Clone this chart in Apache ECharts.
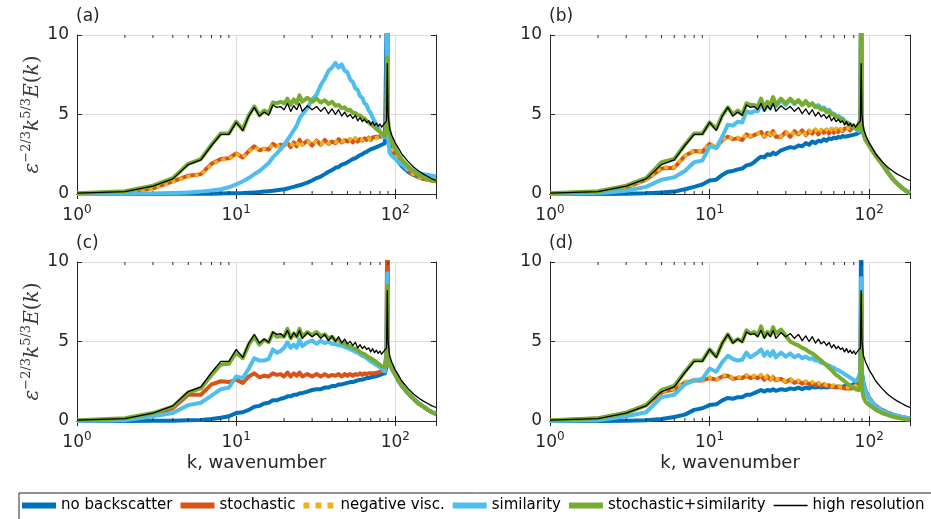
<!DOCTYPE html>
<html><head><meta charset="utf-8">
<script src="https://cdn.jsdelivr.net/npm/echarts@6/dist/echarts.min.js"></script>
<style>html,body{margin:0;padding:0;background:#fff}#c{width:931px;height:519px}</style>
</head><body><div id="c"></div>
<script>
// wavenumbers
const K = [1,2,3,4,5,6,7,8,9,10,11,12,13,14,15,16,17,18,19,20,21,22,23,24,25,26,
  28,30,32,34,36,38,40,42,44,46,48,50,52,54,56,58,60,62,64,66,68,70,72,74,76,78,80,82,84,86,
  88,89,90,92,95,100,105,110,120,130,140,150,160,170,180];
const X_TICK_EXPONENTS = [0,1,2];
const MINOR_TICKS = [2,3,4,5,6,7,8,9,20,30,40,50,60,70,80,90];
const Y_TICKS = [0,5,10];

// high resolution (same reference in every panel)
const HR = [0.05,0.15,0.5,0.95,1.85,2.15,3.05,3.75,3.75,4.5,4.0,4.9,5.45,4.9,5.15,4.95,5.6,5.45,5.5,5.3,5.7,5.2,5.55,5.3,5.7,5.2,
  5.55,5.3,5.5,5.2,5.45,5.05,5.35,5.0,5.3,4.9,5.15,4.85,5.0,4.75,4.95,4.6,4.8,4.55,4.7,4.5,4.6,4.35,4.55,4.3,4.45,4.25,4.4,4.2,4.35,4.3,
  4.6,8.2,5.0,4.1,3.7,3.2,2.85,2.5,2.05,1.7,1.45,1.25,1.1,0.95,0.85];

// panel (a)
const NB_A = [0,0,0,0.01,0.01,0.02,0.02,0.03,0.04,0.05,0.06,0.08,0.1,0.12,0.15,0.18,0.2,0.24,0.27,0.3,0.35,0.4,0.45,0.5,0.55,0.6,
  0.72,0.85,1.0,1.1,1.25,1.4,1.5,1.65,1.7,1.85,1.9,2.0,2.1,2.2,2.25,2.35,2.45,2.5,2.6,2.65,2.75,2.8,2.85,2.9,2.95,3.0,3.05,3.1,3.15,3.2,
  3.3,14,3.6,3.2,2.7,2.3,2.0,1.75,1.4,1.2,1.05,0.95,0.9,0.85,0.85];
const ST_A = [0.02,0.1,0.35,0.8,1.15,1.25,1.9,2.2,2.25,2.55,2.3,2.7,3.0,2.75,2.85,2.8,3.15,3.0,3.1,3.05,3.2,2.95,3.25,3.0,3.4,3.1,
  3.35,3.05,3.35,3.1,3.4,3.15,3.3,3.2,3.45,3.25,3.4,3.3,3.45,3.25,3.5,3.3,3.45,3.35,3.5,3.4,3.55,3.4,3.55,3.45,3.6,3.5,3.6,3.55,3.65,3.75,
  4.0,12,4.2,3.4,2.9,2.45,2.15,1.9,1.5,1.25,1.1,0.95,0.9,0.85,0.8];
const NV_A = [0.02,0.1,0.33,0.78,1.1,1.22,1.85,2.15,2.2,2.5,2.3,2.65,2.95,2.75,2.85,2.85,3.1,3.0,3.1,3.1,3.15,3.0,3.2,3.05,3.35,3.1,
  3.3,3.1,3.3,3.15,3.35,3.2,3.3,3.25,3.4,3.3,3.4,3.35,3.45,3.3,3.5,3.35,3.45,3.4,3.5,3.45,3.5,3.45,3.55,3.5,3.6,3.55,3.6,3.6,3.65,3.7,
  3.9,11,4.1,3.4,2.9,2.45,2.15,1.9,1.5,1.25,1.1,0.95,0.9,0.85,0.8];
const SIM_A = [0,0.01,0.03,0.06,0.1,0.15,0.22,0.3,0.42,0.6,0.8,1.0,1.25,1.45,1.7,1.95,2.3,2.55,2.8,3.1,3.4,3.7,4.0,4.3,4.75,5.0,
  5.4,5.95,6.25,6.85,7.25,7.75,7.95,8.25,7.95,8.15,7.75,7.65,7.2,7.05,6.65,6.55,6.15,6.05,5.7,5.6,5.25,5.1,4.8,4.7,4.35,4.25,3.95,3.85,3.55,3.45,
  3.6,14,3.5,2.6,2.4,2.2,2.0,1.85,1.6,1.45,1.3,1.25,1.2,1.15,1.1];
const SS_A = [0.05,0.17,0.52,1.0,1.9,2.2,3.1,3.8,3.8,4.55,4.05,4.95,5.5,4.95,5.25,5.1,5.75,5.7,5.8,5.7,6.0,5.6,5.95,5.7,6.2,5.8,
  6.05,5.8,6.0,5.75,5.9,5.65,5.8,5.55,5.6,5.4,5.45,5.25,5.3,5.1,5.1,4.95,4.95,4.8,4.75,4.6,4.5,4.4,4.3,4.2,4.1,4.0,3.9,3.8,3.7,3.65,
  4.2,8.6,4.6,3.8,3.3,2.85,2.45,2.15,1.75,1.45,1.2,1.05,0.95,0.85,0.8];

// panel (b)
const NB_B = [0,0,0.02,0.05,0.1,0.15,0.3,0.45,0.6,0.85,0.9,1.2,1.4,1.45,1.55,1.6,1.8,1.85,2.0,2.2,2.35,2.3,2.5,2.45,2.6,2.5,
  2.75,2.85,2.95,2.9,3.05,3.0,3.2,3.1,3.3,3.2,3.35,3.3,3.45,3.35,3.5,3.45,3.55,3.5,3.6,3.55,3.65,3.6,3.7,3.65,3.7,3.7,3.75,3.75,3.8,3.85,
  4.0,14,4.2,3.8,3.4,3.05,2.7,2.4,1.9,1.4,0.95,0.65,0.4,0.2,0.05];
const ST_B = [0.02,0.1,0.4,0.9,1.6,1.65,2.4,2.7,2.65,3.15,2.9,3.4,3.6,3.45,3.5,3.4,3.75,3.6,3.7,3.8,3.9,3.6,3.85,3.7,3.95,3.6,
  3.6,3.9,3.6,3.95,3.75,4.0,3.7,3.95,3.8,4.05,3.75,4.0,3.85,4.05,3.8,4.1,3.85,4.1,3.9,4.1,3.95,4.1,4.0,4.15,4.0,4.15,4.05,4.15,4.2,4.4,
  4.8,12,4.3,3.8,3.4,3.05,2.7,2.4,1.9,1.4,0.95,0.65,0.4,0.2,0.05];
const NV_B = [0.02,0.1,0.42,0.92,1.65,1.7,2.4,2.75,2.7,3.15,2.95,3.4,3.65,3.45,3.55,3.45,3.8,3.65,3.75,3.8,3.9,3.65,3.9,3.75,3.95,3.65,
  3.65,3.9,3.65,3.95,3.8,4.0,3.75,4.0,3.85,4.05,3.8,4.05,3.9,4.05,3.85,4.1,3.9,4.1,3.95,4.1,4.0,4.1,4.05,4.15,4.05,4.15,4.1,4.15,4.2,4.35,
  4.7,11,4.3,3.8,3.4,3.05,2.7,2.4,1.9,1.4,0.95,0.65,0.4,0.2,0.05];
const SIM_B = [0,0.05,0.2,0.45,0.9,1.05,1.45,2.0,2.1,3.0,2.9,3.6,4.35,4.3,4.55,4.5,5.2,5.1,5.2,5.2,5.7,5.3,5.6,5.4,5.9,5.5,
  5.9,5.6,5.95,5.65,5.9,5.6,5.8,5.6,5.7,5.5,5.6,5.4,5.45,5.25,5.3,5.1,5.05,4.95,4.9,4.8,4.75,4.6,4.55,4.45,4.4,4.3,4.25,4.1,4.0,3.95,
  4.5,14,4.3,3.8,3.4,3.05,2.7,2.4,1.9,1.4,0.95,0.65,0.4,0.2,0.05];
const SS_B = [0.05,0.17,0.52,1.0,2.0,2.2,3.1,3.8,3.8,4.5,4.1,4.95,5.45,5.0,5.25,5.0,5.7,5.6,5.6,5.5,6.0,5.4,5.8,5.6,6.1,5.6,
  6.0,5.7,6.0,5.7,5.9,5.6,5.85,5.55,5.7,5.45,5.5,5.3,5.35,5.15,5.2,5.0,5.0,4.85,4.85,4.7,4.7,4.55,4.55,4.4,4.4,4.3,4.25,4.15,4.1,4.05,
  4.6,14,4.3,3.8,3.4,3.05,2.7,2.4,1.9,1.4,0.95,0.65,0.4,0.2,0.05];

// panel (c)
const NB_C = [0,0,0.01,0.02,0.04,0.07,0.12,0.2,0.3,0.5,0.55,0.7,0.9,0.95,1.1,1.15,1.3,1.3,1.4,1.45,1.55,1.55,1.65,1.65,1.75,1.75,
  1.85,1.95,2.0,2.0,2.1,2.1,2.2,2.2,2.3,2.3,2.35,2.4,2.45,2.45,2.5,2.55,2.6,2.6,2.65,2.7,2.7,2.75,2.8,2.8,2.85,2.85,2.9,2.95,2.95,3.0,
  3.4,14,3.8,3.6,3.3,2.9,2.5,2.2,1.75,1.4,1.1,0.9,0.7,0.55,0.45];
const ST_C = [0.02,0.1,0.4,0.8,1.65,1.65,2.3,2.5,2.45,2.6,2.4,2.8,3.0,2.75,2.85,2.8,3.0,2.9,2.95,2.8,3.05,2.8,3.0,2.85,3.05,2.8,
  2.95,2.8,2.95,2.8,2.95,2.8,2.9,2.85,2.95,2.8,2.95,2.85,2.95,2.85,2.95,2.9,3.0,2.9,3.0,2.95,3.0,3.0,3.05,3.0,3.1,3.05,3.1,3.15,3.25,3.5,
  4.3,14,4.0,3.6,3.3,2.9,2.5,2.2,1.75,1.4,1.1,0.9,0.7,0.55,0.45];
const NV_C = null;
const SIM_C = [0,0.05,0.3,0.5,1.0,1.15,1.6,2.0,2.1,2.8,2.7,3.3,3.95,3.8,3.8,3.9,4.5,4.3,4.4,4.6,4.95,4.6,4.8,4.6,5.1,4.7,
  4.95,5.05,4.85,5.05,4.9,5.0,4.85,4.85,4.75,4.75,4.65,4.6,4.5,4.45,4.35,4.3,4.2,4.1,4.05,3.95,3.85,3.75,3.7,3.6,3.5,3.45,3.35,3.3,3.2,3.1,
  4.0,9.3,4.0,3.6,3.3,2.9,2.5,2.2,1.75,1.4,1.1,0.9,0.7,0.55,0.45];
const SS_C = [0.05,0.17,0.5,0.9,1.8,2.05,2.9,3.55,3.6,4.3,3.95,4.8,5.3,4.8,5.1,4.95,5.55,5.3,5.35,5.3,5.8,5.2,5.5,5.3,5.8,5.3,
  5.6,5.4,5.6,5.35,5.45,5.2,5.3,5.05,5.1,4.9,4.9,4.75,4.7,4.6,4.55,4.45,4.35,4.25,4.2,4.1,4.0,3.95,3.85,3.8,3.7,3.6,3.55,3.45,3.35,3.4,
  3.8,8.5,4.0,3.6,3.3,2.9,2.5,2.2,1.75,1.4,1.1,0.9,0.7,0.55,0.45];

// panel (d)
const NB_D = [0,0,0.02,0.05,0.12,0.25,0.4,0.7,0.8,1.0,1.05,1.3,1.45,1.4,1.5,1.5,1.65,1.65,1.75,1.85,1.95,1.85,1.95,1.9,2.0,1.9,
  2.0,1.95,2.05,2.0,2.1,2.0,2.1,2.05,2.15,2.1,2.15,2.1,2.15,2.1,2.15,2.15,2.15,2.15,2.15,2.15,2.15,2.2,2.2,2.2,2.2,2.25,2.3,2.4,2.55,2.75,
  3.0,14,3.0,2.4,1.9,1.45,1.15,0.95,0.7,0.55,0.42,0.32,0.25,0.2,0.15];
const ST_D = [0.02,0.15,0.5,1.0,1.8,2.0,2.4,2.55,2.55,2.7,2.6,2.8,2.85,2.65,2.7,2.7,2.85,2.7,2.8,2.7,2.85,2.6,2.8,2.6,2.75,2.55,
  2.65,2.45,2.6,2.4,2.5,2.35,2.45,2.3,2.4,2.25,2.35,2.2,2.3,2.2,2.25,2.15,2.2,2.1,2.15,2.1,2.1,2.05,2.1,2.05,2.05,2.05,2.1,2.15,2.2,2.4,
  2.9,7.6,2.8,2.2,1.8,1.4,1.1,0.9,0.65,0.5,0.38,0.3,0.24,0.19,0.15];
const NV_D = [0.02,0.15,0.52,1.0,1.85,2.05,2.45,2.6,2.6,2.75,2.6,2.85,2.9,2.7,2.75,2.75,2.9,2.75,2.85,2.75,2.9,2.65,2.85,2.65,2.8,2.6,
  2.7,2.5,2.65,2.45,2.55,2.4,2.5,2.35,2.45,2.3,2.4,2.25,2.35,2.25,2.3,2.2,2.25,2.15,2.2,2.15,2.15,2.1,2.15,2.1,2.1,2.1,2.15,2.2,2.3,2.5,
  3.0,7.8,2.9,2.3,1.85,1.45,1.15,0.95,0.7,0.52,0.4,0.3,0.25,0.2,0.15];
const SIM_D = [0,0.05,0.3,0.55,1.5,1.65,2.3,2.55,2.65,3.3,3.1,3.7,4.1,3.9,3.8,3.85,4.3,4.0,4.15,4.3,4.5,4.1,4.35,4.1,4.4,4.0,
  4.3,4.05,4.25,4.0,4.15,3.95,4.05,3.9,3.95,3.8,3.8,3.65,3.65,3.5,3.5,3.4,3.35,3.25,3.2,3.1,3.05,2.95,2.9,2.8,2.75,2.65,2.55,2.5,2.55,2.7,
  3.2,9.0,3.0,2.3,1.85,1.4,1.1,0.9,0.65,0.5,0.4,0.3,0.25,0.2,0.15];
const SS_D = [0.05,0.17,0.52,1.0,1.95,2.2,3.1,3.8,3.8,4.5,4.05,4.9,5.45,4.95,5.15,5.0,5.7,5.5,5.6,5.4,5.95,5.3,5.6,5.4,5.9,5.5,
  5.75,5.35,5.0,4.85,4.75,4.6,4.5,4.35,4.25,4.1,3.95,3.8,3.65,3.5,3.35,3.2,3.05,2.9,2.8,2.7,2.6,2.5,2.4,2.3,2.25,2.15,2.1,2.0,1.95,1.95,
  2.2,8.0,2.0,1.5,1.2,1.0,0.85,0.7,0.5,0.38,0.28,0.2,0.15,0.1,0.08];

const PANEL_LABELS = ['(a)','(b)','(c)','(d)'];
const SERIES_NAMES = ['no backscatter','stochastic','negative visc.','similarity','stochastic+similarity','high resolution'];
const PANELS = [
  [NB_A, ST_A, NV_A, SIM_A, SS_A, HR],
  [NB_B, ST_B, NV_B, SIM_B, SS_B, HR],
  [NB_C, ST_C, NV_C, SIM_C, SS_C, HR],
  [NB_D, ST_D, NV_D, SIM_D, SS_D, HR]
];
PANELS.forEach((p, pi) => p.forEach((a, si) => {
  if (a && a.length !== K.length) throw new Error('length mismatch panel ' + pi + ' series ' + si + ': ' + a.length);
}));

const COLORS = ['#0072BD','#D95319','#EDB120','#4DBEEE','#77AC30','#000000'];
const AX = '#262626';
const GRIDC = '#dcdcdc';
const FONT = 'DejaVu Sans';

const GRIDS = [
  {left: 77, top: 35, width: 359, height: 159},
  {left: 550, top: 35, width: 360, height: 159},
  {left: 77, top: 262, width: 359, height: 159},
  {left: 550, top: 262, width: 360, height: 159}
];

const xAxes = [], yAxes = [], series = [], titles = [];
GRIDS.forEach((g, gi) => {
  const common = {
    type: 'log', logBase: 10, min: 1, max: 180, gridIndex: gi
  };
  xAxes.push(Object.assign({}, common, {
    position: 'bottom',
    axisLine: {show: true, lineStyle: {color: AX, width: 1}},
    axisTick: {show: true, inside: true, length: 5, lineStyle: {color: AX}},
    splitLine: {show: true, lineStyle: {color: GRIDC, width: 1}},
    axisLabel: {
      show: true, margin: 10, showMaxLabel: false,
      formatter: v => {
        const e = Math.round(Math.log10(v));
        if (X_TICK_EXPONENTS.indexOf(e) < 0 || Math.abs(v - Math.pow(10, e)) > 1e-6) return '';
        return '{b|10}{s|' + e + '}';
      },
      rich: {
        b: {fontSize: 17, fontFamily: FONT, color: AX},
        s: {fontSize: 12, fontFamily: FONT, color: AX, padding: [0, 0, 12, 0]}
      }
    },
    name: gi >= 2 ? 'k, wavenumber' : '',
    nameLocation: 'middle', nameGap: 33,
    nameTextStyle: {fontSize: 18, fontFamily: FONT, color: AX}
  }));
  xAxes.push(Object.assign({}, common, {
    position: 'top',
    axisLine: {show: true, lineStyle: {color: AX, width: 1}},
    axisTick: {show: true, inside: true, length: 5, lineStyle: {color: AX}},
    splitLine: {show: false}, axisLabel: {show: false}
  }));
  const yCommon = {type: 'value', min: 0, max: 10, interval: 5, gridIndex: gi};
  yAxes.push(Object.assign({}, yCommon, {
    position: 'left',
    axisLine: {show: true, lineStyle: {color: AX, width: 1}},
    axisTick: {show: true, inside: true, length: 5, lineStyle: {color: AX}},
    splitLine: {show: true, lineStyle: {color: GRIDC, width: 1}},
    axisLabel: {show: true, fontSize: 17, fontFamily: FONT, color: AX, margin: 8},
    name: (gi % 2 === 0) ? '{i|ε}{s|−2/3}{i|k}{s|5/3}{i|E}{r|(}{i|k}{r|)}' : '',
    nameLocation: 'middle', nameRotate: 90, nameGap: 32,
    nameTextStyle: {
      rich: {
        i: {fontFamily: 'DejaVu Serif', fontStyle: 'italic', fontSize: 20, color: '#3a3a3a'},
        r: {fontFamily: 'DejaVu Serif', fontSize: 20, color: '#3a3a3a'},
        s: {fontFamily: 'DejaVu Serif', fontSize: 13, color: '#3a3a3a', padding: [0, 0, 12, 0]}
      }
    }
  }));
  yAxes.push(Object.assign({}, yCommon, {
    position: 'right',
    axisLine: {show: true, lineStyle: {color: AX, width: 1}},
    axisTick: {show: true, inside: true, length: 5, lineStyle: {color: AX}},
    splitLine: {show: false}, axisLabel: {show: false}
  }));
  titles.push({
    text: PANEL_LABELS[gi], left: g.left - 1, top: g.top - 27, padding: 0,
    textStyle: {fontSize: 17, fontFamily: FONT, fontWeight: 'normal', color: AX}
  });

  // minor ticks of the log axes (top and bottom, inward)
  series.push({
    type: 'custom', xAxisIndex: gi * 2, yAxisIndex: gi * 2, silent: true, z: 5,
    data: MINOR_TICKS.map(v => [v, 0]),
    renderItem: (params, api) => {
      const p = api.coord([api.value(0), 0]);
      const cs = params.coordSys;
      return {type: 'group', children: [
        {type: 'line', shape: {x1: p[0], y1: cs.y + cs.height, x2: p[0], y2: cs.y + cs.height - 3}, style: {stroke: AX, lineWidth: 1}},
        {type: 'line', shape: {x1: p[0], y1: cs.y, x2: p[0], y2: cs.y + 3}, style: {stroke: AX, lineWidth: 1}}
      ]};
    }
  });

  PANELS[gi].forEach((arr, si) => {
    if (!arr) return;
    const isHR = si === 5, isNV = si === 2;
    series.push({
      type: 'line', name: SERIES_NAMES[si],
      xAxisIndex: gi * 2, yAxisIndex: gi * 2,
      data: K.map((k, i) => [k, arr[i]]),
      color: COLORS[si],
      showSymbol: false, symbol: 'none', clip: true, animation: false,
      lineStyle: {
        color: COLORS[si], width: isHR ? 1.3 : 4,
        type: isNV ? [4, 4] : 'solid', cap: 'butt', join: 'round'
      },
      z: 2 + si
    });
  });
});

const option = {
  backgroundColor: '#ffffff',
  animation: false,
  title: titles,
  grid: GRIDS.map(g => Object.assign({containLabel: false}, g)),
  xAxis: xAxes,
  yAxis: yAxes,
  legend: {
    left: 19, top: 493, width: 960, orient: 'horizontal', selectedMode: false,
    itemWidth: 34, itemHeight: 6, itemGap: 8,
    padding: [5, 14, 12, 3],
    borderColor: AX, borderWidth: 1,
    textStyle: {fontSize: 15, fontFamily: FONT, color: '#000'},
    data: [
      {name: 'no backscatter', icon: 'rect'},
      {name: 'stochastic', icon: 'rect'},
      {name: 'negative visc.', icon: 'path://M0,0h5v5h-5z M10,0h5v5h-5z M20,0h5v5h-5z'},
      {name: 'similarity', icon: 'rect'},
      {name: 'stochastic+similarity', icon: 'rect'},
      {name: 'high resolution', icon: 'path://M0,0h35v1.6h-35z'}
    ]
  },
  series: series
};
const chart = echarts.init(document.getElementById('c'), null, {renderer: 'canvas'});
chart.setOption(option);
</script></body></html>
